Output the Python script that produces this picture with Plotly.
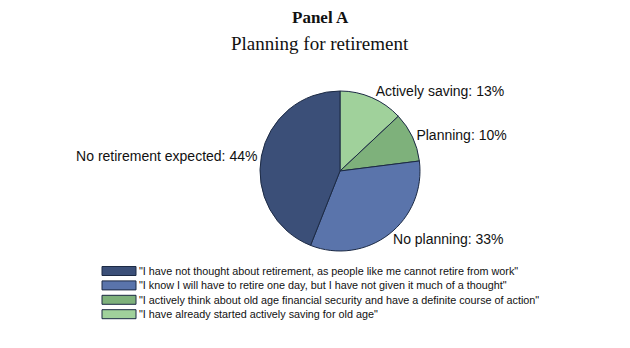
import plotly.graph_objects as go

# Data
slice_labels = ["Actively saving", "Planning", "No planning", "No retirement expected"]
slice_values = [13, 10, 33, 44]
slice_colors = ["#a0d19b", "#7eb17b", "#5a74ab", "#3b4f78"]

legend_labels = [
    "\"I have not thought about retirement, as people like me cannot retire from work\"",
    "\"I know I will have to retire one day, but I have not given it much of a thought\"",
    "\"I actively think about old age financial security and have a definite course of action\"",
    "\"I have already started actively saving for old age\"",
]
legend_colors = ["#3b4f78", "#5a74ab", "#7eb17b", "#a0d19b"]

W, H = 630, 348

fig = go.Figure()
fig.add_trace(go.Pie(
    labels=slice_labels,
    values=slice_values,
    sort=False,
    direction="clockwise",
    rotation=0,
    marker=dict(colors=slice_colors, line=dict(color="#1c2a44", width=1)),
    texttemplate="%{label}: %{value}%",
    textposition="outside",
    outsidetextfont=dict(family="Liberation Sans, Arial", size=14, color="#111111"),
    hole=0,
    showlegend=False,
    domain=dict(x=[260 / W, 420 / W], y=[1 - 251 / H, 1 - 91 / H]),
))

shapes = []
annotations = []
x0, x1 = 102 / W, 136 / W
for i, (lab, col) in enumerate(zip(legend_labels, legend_colors)):
    top = 266.5 + i * 14.4
    shapes.append(dict(type="rect", xref="paper", yref="paper",
                       x0=x0, x1=x1, y0=1 - (top + 9) / H, y1=1 - top / H,
                       fillcolor=col, line=dict(color="#1c2a44", width=1)))
    annotations.append(dict(xref="paper", yref="paper", x=137 / W, y=1 - (top + 4.5) / H,
                            xanchor="left", yanchor="middle", showarrow=False,
                            text=lab, font=dict(family="Liberation Sans, Arial", size=10.8, color="#111111")))

annotations.append(dict(xref="paper", yref="paper", x=0.508, y=1 - 18 / H, xanchor="center", yanchor="middle",
                        showarrow=False, text="<b>Panel A</b>",
                        font=dict(family="Liberation Serif, DejaVu Serif", size=17, color="#111111")))
annotations.append(dict(xref="paper", yref="paper", x=0.508, y=1 - 43 / H, xanchor="center", yanchor="middle",
                        showarrow=False, text="Planning for retirement",
                        font=dict(family="Liberation Serif, DejaVu Serif", size=19, color="#111111")))

fig.update_layout(
    width=W, height=H,
    margin=dict(l=0, r=0, t=0, b=0),
    paper_bgcolor="white", plot_bgcolor="white",
    shapes=shapes, annotations=annotations,
)

fig.write_html("out.html")
